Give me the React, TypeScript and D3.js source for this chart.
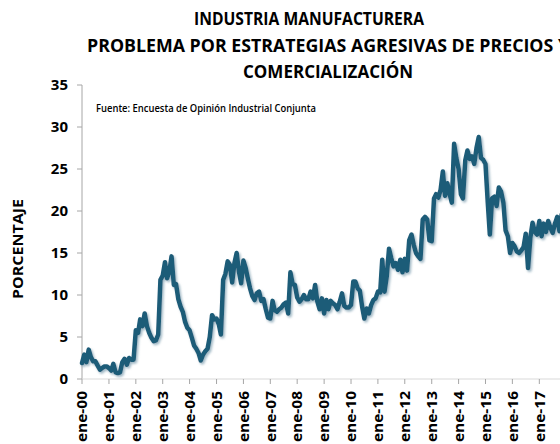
import React from "react";
import * as d3 from "d3";

// Monthly values, Jan 2000 onward (percent)
const values: number[] = [
  // 2000
  1.9, 2.9, 2.0, 3.5, 2.6, 2.1, 2.1, 1.6, 1.1, 1.3, 1.5, 1.5,
  // 2001
  1.3, 1.0, 1.8, 0.8, 0.7, 0.8, 2.0, 2.4, 1.7, 2.5, 2.3, 2.3,
  // 2002
  5.8, 5.5, 7.1, 6.3, 7.8, 6.3, 5.5, 4.9, 4.5, 4.6, 5.3, 11.8,
  // 2003
  12.3, 13.9, 12.0, 12.8, 14.6, 11.2, 11.3, 9.5, 8.6, 8.0, 6.8, 6.1,
  // 2004
  5.8, 4.9, 4.0, 3.6, 3.1, 2.2, 2.9, 3.3, 3.6, 5.0, 7.6, 7.1,
  // 2005
  7.2, 6.5, 5.3, 11.8, 12.5, 14.0, 13.6, 11.5, 13.8, 15.0, 12.8, 11.4,
  // 2006
  14.1, 13.2, 12.0, 10.8, 9.9, 9.4, 10.2, 10.4, 9.3, 9.5, 8.3, 7.3,
  // 2007
  7.2, 9.3, 8.2, 8.0, 8.3, 8.5, 8.9, 9.1, 7.8, 12.7, 11.3, 11.2,
  // 2008
  9.7, 9.2, 9.5, 10.0, 9.5, 9.5, 10.4, 9.6, 11.2, 9.2, 8.3, 9.6,
  // 2009
  7.8, 9.4, 8.3, 9.3, 9.0, 8.8, 8.3, 9.2, 10.2, 8.7, 8.5, 8.5,
  // 2010
  8.8, 11.6, 11.6, 10.8, 10.5, 8.6, 7.2, 8.4, 7.8, 8.8, 9.4, 9.6,
  // 2011
  10.4, 10.3, 14.2, 10.4, 12.2, 15.5, 14.4, 13.4, 13.8, 13.0, 14.2, 12.7,
  // 2012
  14.3, 12.9, 16.5, 17.2, 16.0, 15.0, 14.6, 14.3, 19.0, 19.3, 19.0, 16.5,
  // 2013
  16.4, 21.5, 22.0, 21.6, 22.5, 24.7, 21.8, 23.3, 22.0, 21.0, 28.0, 26.3,
  // 2014
  25.0, 22.0, 21.5, 26.0, 27.2, 26.2, 26.5, 25.6, 27.5, 28.8, 26.3, 26.1,
  // 2015
  25.6, 21.0, 17.2, 21.5, 21.7, 20.6, 22.8, 22.3, 21.0, 17.7, 17.0, 15.0,
  // 2016
  16.2, 15.8, 15.2, 15.0, 15.3, 15.7, 17.3, 13.2, 16.8, 18.6, 17.5, 17.2,
  // 2017
  18.8, 17.0, 18.5, 17.5, 18.8, 18.0, 17.4, 18.5, 19.3, 17.6, 19.6,
];

const startYear = 2000;
const yearLabels = [
  "ene-00", "ene-01", "ene-02", "ene-03", "ene-04", "ene-05", "ene-06",
  "ene-07", "ene-08", "ene-09", "ene-10", "ene-11", "ene-12", "ene-13",
  "ene-14", "ene-15", "ene-16", "ene-17",
];
const yTicks = [0, 5, 10, 15, 20, 25, 30, 35];

const titleLines = [
  "INDUSTRIA MANUFACTURERA",
  "PROBLEMA POR ESTRATEGIAS AGRESIVAS DE PRECIOS Y",
  "COMERCIALIZACIÓN",
];
const sourceText = "Fuente: Encuesta de Opinión Industrial Conjunta";
const yTitle = "PORCENTAJE";

const W = 560;
const H = 444;
const FONT = "'Open Sans', 'DejaVu Sans', sans-serif";

export default function App() {
  const left = 82;
  const perYear = 26.9;
  const x = d3
    .scaleTime()
    .domain([new Date(startYear, 0, 1), new Date(startYear + 18, 0, 1)])
    .range([left, left + perYear * 18]);
  const y = d3.scaleLinear().domain([0, 35]).range([379, 85]);

  const pts = values.map((v, i) => ({ d: new Date(startYear, i, 1), v }));
  const line = d3
    .line<{ d: Date; v: number }>()
    .x((p) => x(p.d))
    .y((p) => y(p.v))
    .curve(d3.curveLinear);
  const path = line(pts) || "";

  const tickDates = yearLabels.map((_, i) => new Date(startYear + i, 0, 1));

  return (
    <svg
      width={W}
      height={H}
      style={{ position: "absolute", left: 0, top: 0, background: "#fff" }}
      fontFamily={FONT}
    >
      <defs>
        <filter id="shadow" x="-5%" y="-5%" width="110%" height="110%">
          <feDropShadow dx="1.5" dy="1.8" stdDeviation="1.2" floodColor="#7f9fb0" floodOpacity="0.75" />
        </filter>
      </defs>
      <rect width={W} height={H} fill="#fff" />

      {/* Title */}
      <text x={309} y={25} textAnchor="middle" fontSize={18} fontWeight={700} fill="#000" textLength={230} lengthAdjust="spacingAndGlyphs">
        {titleLines[0]}
      </text>
      <text x={87} y={52} textAnchor="start" fontSize={18} fontWeight={700} fill="#000" textLength={482} lengthAdjust="spacingAndGlyphs">
        {titleLines[1]}
      </text>
      <text x={328} y={78} textAnchor="middle" fontSize={18} fontWeight={700} fill="#000" textLength={170} lengthAdjust="spacingAndGlyphs">
        {titleLines[2]}
      </text>

      {/* Source */}
      <text x={96} y={112} fontSize={10} fontWeight={600} fill="#000" textLength={220} lengthAdjust="spacingAndGlyphs">
        {sourceText}
      </text>

      {/* Y axis */}
      <line x1={left} x2={left} y1={y(35)} y2={y(0)} stroke="#a6a6a6" strokeWidth={1} />
      {yTicks.map((t) => (
        <g key={t}>
          <line x1={left - 5} x2={left} y1={y(t)} y2={y(t)} stroke="#a6a6a6" strokeWidth={1} />
          <text x={68} y={y(t)} dy="0.35em" textAnchor="end" fontSize={15} fontWeight={700} fill="#000">
            {t}
          </text>
        </g>
      ))}
      <text
        transform={`translate(23,${249}) rotate(-90)`}
        textAnchor="middle"
        fontSize={14}
        fontWeight={700}
        fill="#000"
        textLength={100}
        lengthAdjust="spacingAndGlyphs"
      >
        {yTitle}
      </text>

      {/* X axis */}
      <line x1={left} x2={W} y1={y(0)} y2={y(0)} stroke="#d9d9d9" strokeWidth={1} />
      {tickDates.map((d, i) => (
        <g key={i}>
          <line x1={x(d)} x2={x(d)} y1={y(0)} y2={y(0) + 5} stroke="#a6a6a6" strokeWidth={1} />
          <text
            transform={`translate(${x(d)},${391}) rotate(-90)`}
            textAnchor="end"
            dy="0.35em"
            fontSize={15}
            fontWeight={700}
            fill="#000"
            textLength={51}
            lengthAdjust="spacingAndGlyphs"
          >
            {yearLabels[i]}
          </text>
        </g>
      ))}

      {/* Series */}
      <path
        d={path}
        fill="none"
        stroke="#1a5b78"
        strokeWidth={4.5}
        strokeLinejoin="round"
        strokeLinecap="round"
        filter="url(#shadow)"
      />
    </svg>
  );
}
